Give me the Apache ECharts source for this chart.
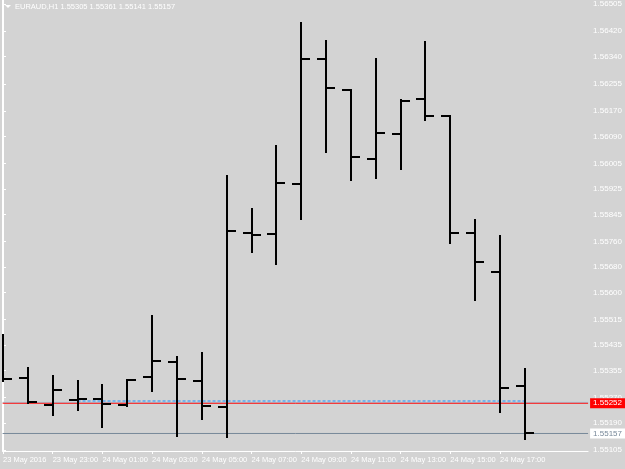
<!DOCTYPE html>
<html>
<head>
<meta charset="utf-8">
<style>
  html, body { margin: 0; padding: 0; background: #d3d3d3; }
  #chart { width: 625px; height: 469px; }
</style>
<script src="https://cdn.jsdelivr.net/npm/echarts@6/dist/echarts.min.js"></script>
</head>
<body>
<div id="chart"></div>
<script>
// EURAUD H1, 23 May 2016 21:00 .. 24 May 2016 18:00
const barTimes = [
  "23 May 21:00", "23 May 22:00", "23 May 23:00", "24 May 00:00", "24 May 01:00", "24 May 02:00",
  "24 May 03:00", "24 May 04:00", "24 May 05:00", "24 May 06:00", "24 May 07:00", "24 May 08:00",
  "24 May 09:00", "24 May 10:00", "24 May 11:00", "24 May 12:00", "24 May 13:00", "24 May 14:00",
  "24 May 15:00", "24 May 16:00", "24 May 17:00", "24 May 18:00",
];
const opens = [1.55357, 1.55332, 1.55247, 1.55263, 1.55266, 1.55245, 1.55335, 1.55382, 1.55322, 1.55241, 1.55786,
  1.55783, 1.55940, 1.56332, 1.56235, 1.56018, 1.56097, 1.56206, 1.56153, 1.55786, 1.55664, 1.55305];
const highs = [1.55466, 1.55363, 1.55338, 1.55322, 1.55310, 1.55325, 1.55526, 1.55397, 1.55410, 1.55965, 1.55861,
  1.56059, 1.56445, 1.56388, 1.56235, 1.56332, 1.56203, 1.56385, 1.56153, 1.55827, 1.55777, 1.55361];
const lows = [1.55322, 1.55253, 1.55216, 1.55231, 1.55178, 1.55243, 1.55291, 1.55150, 1.55203, 1.55147, 1.55727,
  1.55689, 1.55830, 1.56040, 1.55952, 1.55959, 1.55987, 1.56140, 1.55755, 1.55576, 1.55225, 1.55141];
const closes = [1.55328, 1.55256, 1.55294, 1.55266, 1.55250, 1.55324, 1.55385, 1.55328, 1.55244, 1.55792, 1.55780,
  1.55943, 1.56332, 1.56241, 1.56025, 1.56100, 1.56200, 1.56153, 1.55786, 1.55695, 1.55300, 1.55157];

const timeTickBars = [0, 2, 4, 6, 8, 10, 12, 14, 16, 18, 20];
const timeTickLabels = ["23 May 2016", "23 May 23:00", "24 May 01:00", "24 May 03:00", "24 May 05:00",
  "24 May 07:00", "24 May 09:00", "24 May 11:00", "24 May 13:00", "24 May 15:00", "24 May 17:00"];
const priceTicks = [1.56505, 1.56420, 1.56340, 1.56255, 1.56170, 1.56090, 1.56005, 1.55925, 1.55845,
  1.55760, 1.55680, 1.55600, 1.55515, 1.55435, 1.55355, 1.55270, 1.55190, 1.55105];

const bidPrice = 1.55157;
const levelPrice = 1.55252;
const levelPrice2 = 1.55255;
const tradePrice = 1.55259;
const tradeBars = [3, 21];

const X_MIN = -0.016;
const X_MAX = 23.544;
const Y_MIN = 1.55102;
const Y_MAX = 1.56518;

const last = opens.length - 1;
const header = `EURAUD,H1 ${opens[last].toFixed(5)} ${highs[last].toFixed(5)} ${lows[last].toFixed(5)} ${closes[last].toFixed(5)}`;

const ohlc = barTimes.map((t, i) => [i, opens[i], highs[i], lows[i], closes[i]]);

const font = '"Liberation Sans", Arial, sans-serif';
const TICK = 9;

function renderBar(params, api) {
  const i = api.value(0);
  const o = api.coord([i, api.value(1)]);
  const h = api.coord([i, api.value(2)]);
  const l = api.coord([i, api.value(3)]);
  const c = api.coord([i, api.value(4)]);
  const x = Math.round(o[0]);
  const style = { stroke: "#000", lineWidth: 2 };
  return {
    type: "group",
    children: [
      { type: "line", shape: { x1: x, y1: Math.round(h[1]) - 1, x2: x, y2: Math.round(l[1]) + 1 }, style },
      { type: "line", shape: { x1: x - TICK, y1: Math.round(o[1]), x2: x, y2: Math.round(o[1]) }, style },
      { type: "line", shape: { x1: x, y1: Math.round(c[1]), x2: x + TICK, y2: Math.round(c[1]) }, style },
    ],
  };
}

// full-width horizontal price line, label drawn in the price scale
function hline(price, color, label) {
  return {
    type: "line",
    data: [[X_MIN, price], [X_MAX, price]],
    symbol: "none",
    silent: true,
    z: 1,
    lineStyle: { color, width: 1 },
    endLabel: label
      ? {
          show: true,
          distance: 2,
          formatter: price.toFixed(5),
          color: label.color,
          backgroundColor: label.bg,
          fontSize: 8,
          fontFamily: font,
          padding: [1, 6, 1, 3],
        }
      : { show: false },
  };
}

const chart = echarts.init(document.getElementById("chart"), null, { renderer: "canvas" });
chart.setOption({
  animation: false,
  backgroundColor: "#d3d3d3",
  textStyle: { fontFamily: font },
  grid: { left: 2, right: 34, top: 0, bottom: 18 },
  xAxis: {
    type: "value",
    min: X_MIN,
    max: X_MAX,
    splitLine: { show: false },
    axisLine: { show: true, lineStyle: { color: "#ffffff", width: 1 } },
    axisTick: { show: true, customValues: timeTickBars, length: 3, lineStyle: { color: "#ffffff" } },
    axisLabel: {
      customValues: timeTickBars,
      formatter: (v) => timeTickLabels[timeTickBars.indexOf(v)] || "",
      align: "left",
      color: "#ffffff",
      fontSize: 7.5,
      margin: 5,
      fontFamily: font,
    },
  },
  yAxis: [
    {
      type: "value",
      position: "right",
      min: Y_MIN,
      max: Y_MAX,
      splitLine: { show: false },
      axisLine: { show: true, lineStyle: { color: "#ffffff", width: 1 } },
      axisTick: { show: true, customValues: priceTicks, length: 3, lineStyle: { color: "#ffffff" } },
      axisLabel: {
        customValues: priceTicks,
        formatter: (v) => v.toFixed(5),
        color: "#ffffff",
        fontSize: 8,
        margin: 5,
        fontFamily: font,
      },
    },
    {
      type: "value",
      position: "left",
      min: Y_MIN,
      max: Y_MAX,
      splitLine: { show: false },
      axisLine: { show: true, lineStyle: { color: "#ffffff", width: 1 } },
      axisTick: { show: false },
      axisLabel: { show: false },
    },
  ],
  series: [
    hline(levelPrice2, "#9fd8ee", null),
    hline(levelPrice, "#ff0000", { color: "#ffffff", bg: "#ff0000" }),
    hline(bidPrice, "#778899", { color: "#778899", bg: "#ffffff" }),
    {
      type: "line",
      data: tradeBars.map((b) => [b, tradePrice]),
      symbol: "none",
      silent: true,
      lineStyle: { color: "#1e90ff", width: 1, type: [3, 2] },
      z: 2,
    },
    {
      type: "custom",
      clip: true,
      renderItem: renderBar,
      data: ohlc,
      z: 3,
    },
  ],
  graphic: [
    { type: "polygon", left: 5, top: 5, shape: { points: [[0, 0], [6, 0], [3, 3]] }, style: { fill: "#ffffff" } },
    {
      type: "text", left: 15, top: 3,
      style: { text: header, fill: "#ffffff", font: `7.5px ${font}` },
    },
  ],
});
</script>
</body>
</html>
